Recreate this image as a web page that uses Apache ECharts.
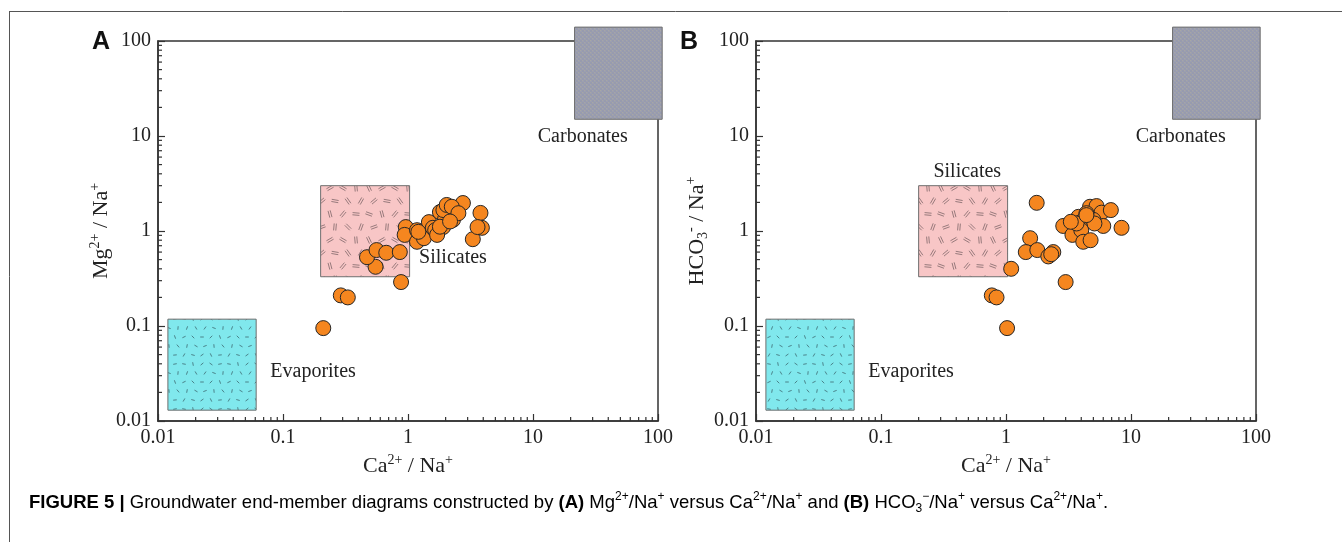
<!DOCTYPE html>
<html><head><meta charset="utf-8">
<script src="https://cdn.jsdelivr.net/npm/echarts@6/dist/echarts.min.js"></script>
<style>html,body{margin:0;padding:0;background:#fff}#c{width:1342px;height:542px}</style>
</head><body><div id="c"></div><script>
// ---- data ----
const panelLabels = ['A', 'B'];
const axisMin = 0.01, axisMax = 100;
const minorMultipliers = [2, 3, 4, 5, 6, 7, 8, 9];
const decades = [0.01, 0.1, 1, 10];

// Panel A: [Ca2+/Na+, Mg2+/Na+]
const mgNaA = [
  [0.21, 0.095], [0.29, 0.21], [0.33, 0.20], [0.88, 0.29], [0.55, 0.42],
  [0.47, 0.53], [0.56, 0.63], [0.67, 0.59], [0.86, 0.60], [0.96, 1.10],
  [0.94, 0.91], [1.18, 1.02], [1.18, 0.77], [1.34, 0.84], [1.47, 1.24],
  [1.58, 1.08], [1.80, 1.58], [1.91, 1.10], [1.98, 1.34], [2.17, 1.75],
  [2.29, 1.31], [2.47, 1.55], [2.75, 1.97], [3.3, 0.82], [3.8, 1.55],
  [3.9, 1.08], [3.6, 1.10], [1.21, 0.98], [1.65, 1.02], [1.71, 0.91],
  [2.29, 1.59], [2.10, 1.59], [1.92, 1.66], [2.04, 1.88], [2.24, 1.80],
  [2.53, 1.54], [1.80, 1.11], [2.17, 1.26]
];
// Panel B: [Ca2+/Na+, HCO3-/Na+]
const hco3NaB = [
  [1.76, 1.98], [1.10, 0.40], [0.77, 0.21], [0.84, 0.20], [1.02, 0.095],
  [1.56, 0.84], [1.44, 0.60], [1.78, 0.63], [2.18, 0.54], [2.39, 0.60],
  [2.30, 0.57], [3.0, 0.29], [2.87, 1.13], [3.4, 0.91], [3.8, 1.41],
  [4.0, 1.25], [4.0, 1.02], [4.15, 0.77], [4.75, 0.80], [4.7, 1.80],
  [5.3, 1.83], [5.8, 1.56], [6.9, 1.66], [6.0, 1.13], [8.4, 1.08],
  [5.0, 1.31], [4.4, 1.54], [5.1, 1.20], [3.67, 1.20], [4.4, 1.47],
  [3.3, 1.25]
];
// End-member boxes: [xFrom, yFrom, xTo, yTo]
const carbonatesBox = [21.5, 15, 108, 140];
const silicatesBox = [0.2, 0.33, 1.03, 3.0];
const evaporitesBox = [0.012, 0.013, 0.061, 0.118];
// Annotation text anchors: [x, y, text]
const annotationsA = [[25, 9.8, 'Carbonates'], [2.29, 0.52, 'Silicates'], [0.174, 0.033, 'Evaporites']];
const annotationsB = [[25, 9.8, 'Carbonates'], [0.49, 4.2, 'Silicates'], [0.174, 0.033, 'Evaporites']];

// ---- textures ----
function makeTile(size, bg, draw) {
  const c = document.createElement('canvas');
  c.width = c.height = size;
  const g = c.getContext('2d');
  g.fillStyle = bg; g.fillRect(0, 0, size, size);
  draw(g);
  return c;
}
const silAngles = [20, 75, 130, 5, 160, 95, 45, 110, 65, 150, 30, 85, 140, 10, 55, 120];
const silTile = makeTile(52, '#f8c6c6', g => {
  g.strokeStyle = '#7d6668'; g.lineWidth = 0.8;
  for (let i = 0; i < 16; i++) {
    const cx = (i % 4) * 13 + 5 + (Math.floor(i / 4) % 2) * 5, cy = Math.floor(i / 4) * 13 + 6;
    const a = silAngles[i] * Math.PI / 180;
    const dx = Math.cos(a) * 3.5, dy = Math.sin(a) * 3.5, nx = -Math.sin(a) * 1.1, ny = Math.cos(a) * 1.1;
    for (const s of [-1, 1]) {
      g.beginPath(); g.moveTo(cx - dx + s * nx, cy - dy + s * ny); g.lineTo(cx + dx + s * nx, cy + dy + s * ny); g.stroke();
    }
  }
});
const evaAngles = [10, 80, 140, 35, 170, 110, 60, 125, 20, 95, 155, 45, 0, 135, 70, 100, 30, 160, 85, 50, 120, 15, 145, 65, 175];
const evaTile = makeTile(45, '#80e8ed', g => {
  g.strokeStyle = '#3c6870'; g.lineWidth = 0.8;
  for (let i = 0; i < 25; i++) {
    const cx = (i % 5) * 9 + 4 + (Math.floor(i / 5) % 2) * 3, cy = Math.floor(i / 5) * 9 + 4;
    const a = evaAngles[i] * Math.PI / 180;
    const dx = Math.cos(a) * 1.8, dy = Math.sin(a) * 1.8;
    g.beginPath(); g.moveTo(cx - dx, cy - dy); g.lineTo(cx + dx, cy + dy); g.stroke();
  }
});
const carbTile = makeTile(4, '#9d9faf', g => {
  g.fillStyle = '#979bae'; g.fillRect(0, 0, 2, 2); g.fillRect(2, 2, 2, 2);
  g.fillStyle = '#a7a7a4'; g.fillRect(2, 0, 1, 1); g.fillRect(0, 2, 1, 1);
});

const serif = '"Liberation Serif", "Times New Roman", serif';
const sans = '"Liberation Sans", Arial, sans-serif';
const ink = '#222';

const boxDefs = [
  { b: carbonatesBox, tile: carbTile },
  { b: silicatesBox, tile: silTile },
  { b: evaporitesBox, tile: evaTile }
];

function boxSeries(i) {
  return {
    type: 'custom', xAxisIndex: i, yAxisIndex: i, clip: false, silent: true, z: 3,
    data: boxDefs.map(d => d.b),
    encode: { x: [0, 2], y: [1, 3] },
    renderItem: (params, api) => {
      const p1 = api.coord([api.value(0), api.value(1)]);
      const p2 = api.coord([api.value(2), api.value(3)]);
      return {
        type: 'rect',
        shape: { x: Math.min(p1[0], p2[0]), y: Math.min(p1[1], p2[1]), width: Math.abs(p2[0] - p1[0]), height: Math.abs(p2[1] - p1[1]) },
        style: { fill: { image: boxDefs[params.dataIndex].tile, repeat: 'repeat' }, stroke: '#6e6e6e', lineWidth: 1 }
      };
    }
  };
}
function annotationSeries(i, ann) {
  return {
    type: 'custom', xAxisIndex: i, yAxisIndex: i, clip: false, silent: true, z: 4,
    data: ann.map(a => [a[0], a[1]]),
    encode: { x: 0, y: 1 },
    renderItem: (params, api) => {
      const p = api.coord([api.value(0), api.value(1)]);
      return { type: 'text', x: p[0], y: p[1], style: { text: ann[params.dataIndex][2], font: '20px ' + serif, fill: ink, align: 'center', verticalAlign: 'middle' } };
    }
  };
}
const minorValues = [];
decades.forEach(d => minorMultipliers.forEach(m => minorValues.push(+(m * d).toPrecision(3))));
function minorTickSeries(i, dir) {
  return {
    type: 'custom', xAxisIndex: i, yAxisIndex: i, clip: false, silent: true, z: 1,
    data: minorValues.map(v => dir === 'x' ? [v, axisMin] : [axisMin, v]),
    encode: { x: 0, y: 1 },
    renderItem: (params, api) => {
      const p = api.coord([api.value(0), api.value(1)]);
      const shape = dir === 'x' ? { x1: p[0], y1: p[1], x2: p[0], y2: p[1] - 4 } : { x1: p[0], y1: p[1], x2: p[0] + 4, y2: p[1] };
      return { type: 'line', shape, style: { stroke: '#333', lineWidth: 1.2 } };
    }
  };
}
function scatterSeries(i, data) {
  return {
    type: 'scatter', xAxisIndex: i, yAxisIndex: i, z: 5, data,
    symbolSize: 15,
    itemStyle: { color: '#f5861f', borderColor: '#262626', borderWidth: 1, opacity: 1 }
  };
}

const rich = {
  n: { fontFamily: serif, fontSize: 22, color: ink, lineHeight: 26 },
  s: { fontFamily: serif, fontSize: 14, color: ink, verticalAlign: 'top', lineHeight: 26, padding: [0, 0, 10, 0] },
  b: { fontFamily: serif, fontSize: 14, color: ink, verticalAlign: 'bottom', lineHeight: 26, padding: [9, 0, 0, 0] }
};
const xName = '{n|Ca}{s|2+}{n| / Na}{s|+}';
const yNames = ['{n|Mg}{s|2+}{n| / Na}{s|+}', '{n|HCO}{b|3}{s|-}{n| / Na}{s|+}'];

function mkX(i) {
  return {
    type: 'log', logBase: 10, min: axisMin, max: axisMax, gridIndex: i,
    axisLine: { lineStyle: { color: '#333', width: 1.5 } },
    axisTick: { inside: true, length: 7, lineStyle: { color: '#333', width: 1.2 } },
    splitLine: { show: false },
    axisLabel: { fontFamily: serif, fontSize: 20, color: ink, margin: 7, formatter: v => String(Number(Number(v).toPrecision(6))) },
    name: xName, nameLocation: 'middle', nameGap: 32,
    nameTextStyle: { rich }
  };
}
function mkY(i) {
  return {
    type: 'log', logBase: 10, min: axisMin, max: axisMax, gridIndex: i,
    axisLine: { lineStyle: { color: '#333', width: 1.5 } },
    axisTick: { inside: true, length: 7, lineStyle: { color: '#333', width: 1.2 } },
    splitLine: { show: false },
    axisLabel: { fontFamily: serif, fontSize: 20, color: ink, margin: 7, formatter: v => String(Number(Number(v).toPrecision(6))) },
    name: yNames[i], nameLocation: 'middle', nameGap: 44,
    nameTextStyle: { rich }
  };
}

const capRich = {
  b: { fontFamily: sans, fontSize: 18.5, fontWeight: 'bold', color: '#111', lineHeight: 24 },
  t: { fontFamily: sans, fontSize: 18.5, color: '#111', lineHeight: 24 },
  s: { fontFamily: sans, fontSize: 12, color: '#111', verticalAlign: 'top', lineHeight: 24, padding: [0, 0, 8, 0] },
  u: { fontFamily: sans, fontSize: 12, color: '#111', verticalAlign: 'bottom', lineHeight: 24, padding: [6, 0, 0, 0] }
};
const caption = '{b|FIGURE 5 | }{t|Groundwater end-member diagrams constructed by }{b|(A)}{t| Mg}{s|2+}{t|/Na}{s|+}{t| versus Ca}{s|2+}{t|/Na}{s|+}{t| and }{b|(B)}{t| HCO}{u|3}{s|−}{t|/Na}{s|+}{t| versus Ca}{s|2+}{t|/Na}{s|+}{t|.}';

const option = {
  animation: false,
  backgroundColor: '#fff',
  grid: [
    { left: 158, top: 41, width: 500, height: 380, show: true, borderColor: '#333', borderWidth: 1.5, backgroundColor: 'transparent' },
    { left: 756, top: 41, width: 500, height: 380, show: true, borderColor: '#333', borderWidth: 1.5, backgroundColor: 'transparent' }
  ],
  xAxis: [mkX(0), mkX(1)],
  yAxis: [mkY(0), mkY(1)],
  series: [
    minorTickSeries(0, 'x'), minorTickSeries(0, 'y'), minorTickSeries(1, 'x'), minorTickSeries(1, 'y'),
    boxSeries(0), boxSeries(1),
    annotationSeries(0, annotationsA), annotationSeries(1, annotationsB),
    scatterSeries(0, mgNaA), scatterSeries(1, hco3NaB)
  ],
  graphic: [
    { type: 'line', shape: { x1: 9, y1: 11.5, x2: 1342, y2: 11.5 }, style: { stroke: '#555', lineWidth: 1 }, silent: true },
    { type: 'line', shape: { x1: 9.5, y1: 11, x2: 9.5, y2: 542 }, style: { stroke: '#555', lineWidth: 1 }, silent: true },
    { type: 'text', x: 101, y: 42, style: { text: panelLabels[0], font: 'bold 25px ' + sans, fill: '#111', align: 'center', verticalAlign: 'middle' } },
    { type: 'text', x: 689, y: 42, style: { text: panelLabels[1], font: 'bold 25px ' + sans, fill: '#111', align: 'center', verticalAlign: 'middle' } },
    { type: 'text', x: 29, y: 503, style: { text: caption, rich: capRich, align: 'left', verticalAlign: 'middle' } }
  ]
};
const chart = echarts.init(document.getElementById('c'), null, { renderer: 'canvas' });
chart.setOption(option);
</script></body></html>
